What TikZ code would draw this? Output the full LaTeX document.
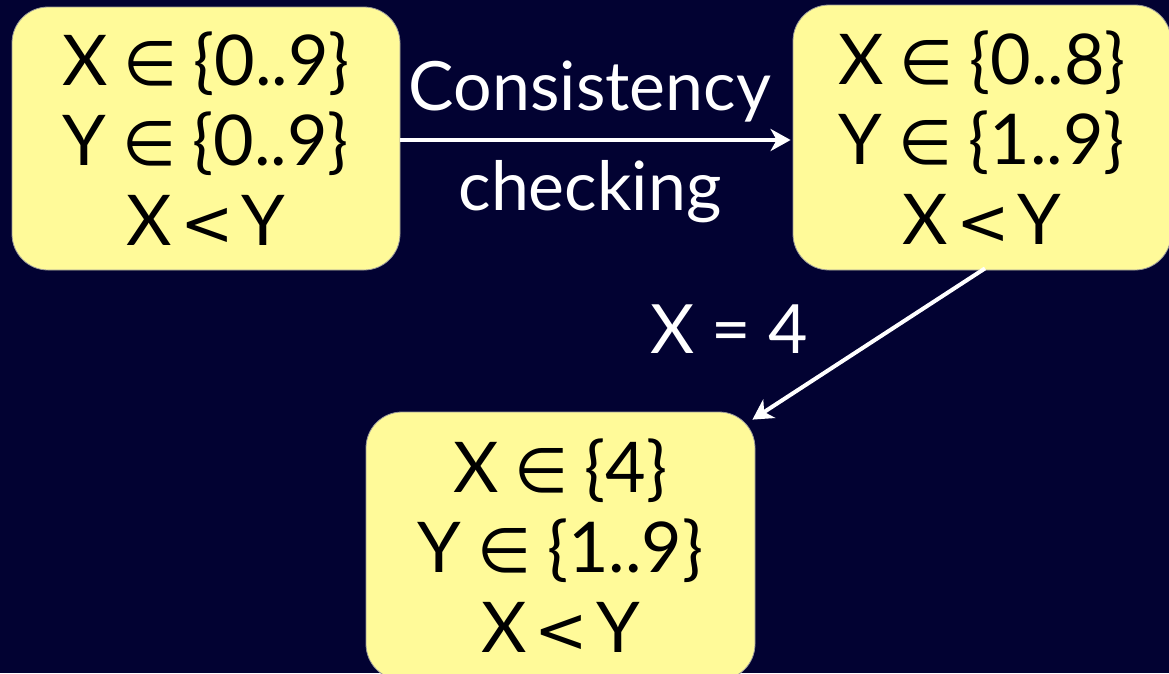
\documentclass[tikz,border=0pt]{standalone}
\usepackage{fontspec}
\setmainfont{Lato}
\newfontfamily\symfont{DejaVu Sans}
\usetikzlibrary{arrows.meta,calc}
\definecolor{bgnavy}{RGB}{2,2,50}
\definecolor{boxyellow}{RGB}{255,250,153}
\newcommand{\elem}{\hspace{16pt}{\symfont\fontsize{62}{60}\selectfont ∈}\hspace{16pt}}
\newcommand{\lessthan}{\hspace{8pt}{\symfont\fontsize{64}{60}\selectfont <}\hspace{8pt}}
\tikzset{
  statebox/.style={rectangle, rounded corners=36pt, fill=boxyellow, draw=black!40, line width=0.8pt,
    align=center, font=\fontsize{70}{80}\selectfont, text=black, inner sep=0pt},
  lbl/.style={text=white, font=\fontsize{68}{80}\selectfont, anchor=base, inner sep=0pt},
  conn/.style={draw=white, line width=4pt, -{Stealth[length=20pt,width=22pt,inset=6pt]}}
}
\begin{document}
\begin{tikzpicture}[x=1pt,y=-1pt]
\fill[bgnavy] (0,0) rectangle (1169,673);
\useasboundingbox (0,0) rectangle (1169,673);
\node[statebox, minimum width=388pt, minimum height=263pt] (b1) at (206,138.5)
  {X\elem\{0..9\}\\Y\elem\{0..9\}\\X\lessthan Y};
\node[statebox, minimum width=378pt, minimum height=265pt] (b2) at (982,137.5)
  {X\elem\{0..8\}\\Y\elem\{1..9\}\\X\lessthan Y};
\node[statebox, minimum width=389pt, minimum height=268pt] (b3) at (560.5,546)
  {X\elem\{4\}\\Y\elem\{1..9\}\\X\lessthan Y};
\node[lbl] (l1) at (590,110) {Consistency};
\node[lbl] (l2) at (590,210) {checking};
\node[lbl] (l3) at (729,353) {X = 4};
\draw[conn] ($(b1.east)+(0,1.5)$) -- ($(b2.west)+(-2,2.5)$);
\draw[conn] ($(b2.south)+(3,-2)$) -- ($(b3.north east)+(-3,8)$);
\end{tikzpicture}
\end{document}
